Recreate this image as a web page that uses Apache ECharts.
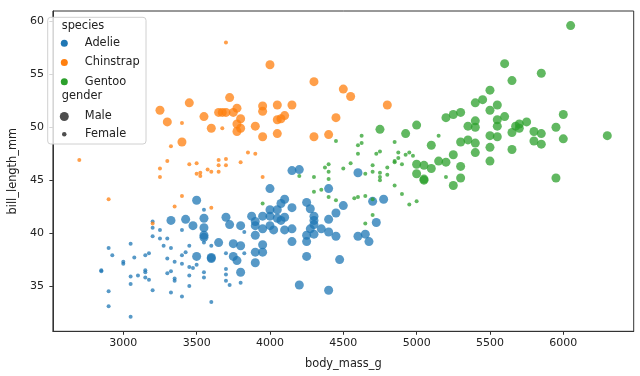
<!DOCTYPE html>
<html><head><meta charset="utf-8">
<script src="https://cdn.jsdelivr.net/npm/echarts@6/dist/echarts.min.js"></script>
<style>html,body{margin:0;padding:0;background:#fff}#c{width:640px;height:376px}</style>
</head><body><div id="c"></div>
<script>
const species = ['Adelie', 'Chinstrap', 'Gentoo'];
const genders = ['Male', 'Female'];
const xTicks = [3000, 3500, 4000, 4500, 5000, 5500, 6000];
const yTicks = [35, 40, 45, 50, 55, 60];

const adelieMale = [
[3325,41.2],[3500,37.8],[3600,37.7],[3600,37.6],[3650,39.1],[3750,39.0],[3750,37.8],[3775,37.4],[3800,38.8],[3800,36.3],[3900,38.2],[3900,37.2],[3950,38.9],[3950,38.2],[4150,39.2],[4250,39.2],[4250,37.8],[4200,35.1],[4400,34.6],
[4475,37.5],[4675,39.2],
[4600,45.7],[4400,44.2],[4700,43.0],[4775,43.2],[4500,42.6],[4450,41.9],[4400,41.3],[4725,41.0],[4450,39.7],[4600,39.7],[4650,39.9],
[4150,45.9],[4200,46.0],[4000,44.2],[3500,43.1],[4100,43.2],[4075,42.8],[4250,42.9],[4150,42.4],[4000,42.2],[4050,42.2],[4275,42.3],[4300,41.6],[4300,41.2],[4100,41.5],[4050,41.4],[4000,41.6],[3950,41.6],[3875,41.6],[3700,41.5],[3425,41.3],[3550,41.4],[3475,40.7],[3550,40.5],[3725,40.8],[3800,40.7],[3900,41.1],[3900,40.7],[3950,40.4],[4000,40.7],[4025,40.3],[4075,41.2],[4100,40.3],[4150,40.4],[4275,40.4],[4300,39.9],[4350,40.4],[3550,39.8],[3550,39.6],[3900,39.8],[4250,39.8],[4300,40.8],[4400,40.1]
];
const adelieFemale = [
[3200,41.1],[3200,40.5],[3250,40.3],[3200,39.7],[3250,39.5],[3300,39.5],[2900,38.6],[3050,39.0],[3275,38.8],[3325,38.6],
[2925,37.9],[3000,37.3],[3000,37.1],[3075,37.7],[3150,37.9],[3175,38.1],[3300,37.6],[3350,37.3],[2850,36.5],[2850,36.4],[3050,35.9],[3100,36.0],[3150,36.5],[3150,36.3],[3150,35.8],[3175,35.6],[3300,36.2],[3325,36.4],[3350,35.7],[3350,35.5],[3050,35.2],[2900,34.5],[3200,34.6],[3325,34.4],[2900,33.1],[3050,32.1],
[3450,38.8],[3400,37.9],[3425,38.2],[3400,37.1],[3450,36.8],[3475,36.7],[3450,36.0],[3450,35.0],[3400,34.0],[3550,39.1],[3550,36.3],[3550,35.8],[3500,37.0],[3600,38.8],[3600,33.5],[3700,38.1],[3700,36.6],[3700,36.1],[3700,35.5],[3725,35.1],[3800,35.3],[3825,38.1],
[3400,40.3],[3550,42.2],[3825,40.1]
];
const chinstrapMale = [
[3250,51.6],[3300,50.5],[4000,55.9],[4300,54.3],[3450,52.3],[3725,52.8],[3550,51.0],[3650,51.4],[3675,51.4],[3700,51.4],[3750,51.4],[3775,51.8],[3800,50.8],[3950,52.0],[3950,51.5],[4050,52.1],[4150,52.1],[4050,50.7],[4075,50.8],[4100,51.1],[4450,50.9],[3600,49.9],[3900,50.1],[4500,53.6],[4550,52.9],[4800,52.1],[3400,48.6],[3775,50.3],[3775,49.6],[3800,49.9],[3950,49.1],[4050,49.4],[4300,49.1],[4400,49.3]
];
const chinstrapFemale = [
[3700,58.0],[3400,50.4],[3675,49.9],[3325,48.2],[2700,46.9],[3300,46.8],[3250,46.1],[3250,45.3],[2900,43.2],[3350,42.5],[3200,40.9],
[3850,47.6],[3900,47.5],[3650,46.9],[3700,47.0],[3450,46.5],[3500,46.6],[3575,46.0],[3600,45.8],[3650,46.4],[3650,45.8],[3700,46.4],[3800,46.7],[3500,45.6],[3525,45.7],[3525,45.4],[3950,45.3],[3400,43.5],[3600,42.4]
];
const gentooMale = [
[4750,49.8],[4925,49.4],[5000,50.2],[5100,48.3],[5000,46.5],[5050,46.4],[5100,46.1],[5000,45.6],[5050,45.0],[5050,45.1],[5150,46.8],[5200,46.7],[5250,47.4],[5300,46.3],[5300,45.2],[5250,44.5],[5300,48.6],[5350,48.8],[5400,48.5],[5400,47.6],[5350,50.1],[5400,50.0],[5500,49.2],[5500,48.1],[5500,46.8],
[5500,53.5],[5450,52.6],[5400,52.3],[5500,51.6],[5200,50.9],[5250,51.2],[5300,51.4],[5400,50.6],
[6050,59.6],[5600,56.0],[5850,55.1],[5650,54.4],[5550,52.1],[6000,51.2],[5550,50.7],[5600,51.0],[5550,50.1],[5700,50.3],[5750,50.5],[5675,50.1],[5950,50.0],
[5550,49.1],[5650,49.5],[5650,47.9],[5800,49.6],[5850,49.4],[5800,48.7],[5850,48.4],[6000,48.9],[6300,49.2],[5950,45.2],[5700,49.9]
];
const gentooFemale = [
[4400,46.5],[4400,45.8],[4400,45.1],[4450,48.7],[4500,46.1],[4550,46.6],[4600,47.5],[4600,48.3],[4625,48.5],[4625,49.2],[4650,45.6],[4700,46.4],[4700,45.8],[4725,47.5],[4750,47.7],[4750,45.7],[4750,45.3],[4750,45.0],[4800,46.2],[4800,45.5],[4850,48.6],[4850,44.5],[4850,46.8],[4850,46.7],[4875,47.1],[4875,47.6],[4900,46.5],[4925,47.4],[4950,47.6],[4975,47.3],[4900,43.7],[4950,42.7],[5000,43.0],[5150,49.2],[5200,45.3],[4650,43.5],[4600,43.4],[4575,43.3],[4650,40.9],[4700,41.7],[4700,43.2],
[4375,46.2],[4300,45.3],[4350,44.1],[4300,43.9],[4400,43.4],[4450,43.1],[3950,42.8],[4200,45.4]
];

const colors = {Adelie: '#1f77b4', Chinstrap: '#ff7f0e', Gentoo: '#2ca02c'};
const dataBy = {
  Adelie: {Male: adelieMale, Female: adelieFemale},
  Chinstrap: {Male: chinstrapMale, Female: chinstrapFemale},
  Gentoo: {Male: gentooMale, Female: gentooFemale}
};
const sizes = {Male: 9, Female: 4};
const FONT = 'DejaVu Sans';
const TXT = '#222';

const series = [];
species.forEach(sp => {
  genders.forEach(g => {
    series.push({
      type: 'scatter', name: sp, data: dataBy[sp][g],
      symbol: 'circle', symbolSize: sizes[g],
      itemStyle: {color: colors[sp], opacity: 0.75},
      z: 2
    });
  });
});
genders.forEach(g => {
  series.push({type: 'scatter', name: g, data: [], symbolSize: sizes[g], itemStyle: {color: '#222'}});
});

function legendText(padLeft) {
  return {fontFamily: FONT, fontSize: 11.4, color: TXT, padding: [0, 0, 0, padLeft]};
}
const chart = echarts.init(document.getElementById('c'));
chart.setOption({
  animation: false,
  backgroundColor: '#fff',
  grid: {left: 41.7, right: 6.3, top: 11, bottom: 44.7, show: true, borderColor: '#333', borderWidth: 1, backgroundColor: 'transparent'},
  xAxis: {
    type: 'value', min: 2520, max: 6480,
    name: 'body_mass_g', nameLocation: 'middle', nameGap: 27,
    nameTextStyle: {fontFamily: FONT, fontSize: 11.4, color: TXT},
    axisLine: {show: true, lineStyle: {color: '#333', width: 1}},
    axisTick: {show: true, customValues: xTicks, length: 3.5, lineStyle: {color: '#333'}},
    axisLabel: {customValues: xTicks, formatter: v => String(v), fontFamily: FONT, fontSize: 11, color: TXT, margin: 6},
    splitLine: {show: false}
  },
  yAxis: {
    type: 'value', min: 30.725, max: 60.975,
    name: 'bill_length_mm', nameLocation: 'middle', nameGap: 32, nameRotate: 90,
    nameTextStyle: {fontFamily: FONT, fontSize: 11.4, color: TXT},
    axisLine: {show: true, lineStyle: {color: '#333', width: 1}},
    axisTick: {show: true, customValues: yTicks, length: 3.5, lineStyle: {color: '#333'}},
    axisLabel: {customValues: yTicks, formatter: v => String(v), fontFamily: FONT, fontSize: 11, color: TXT, margin: 9},
    splitLine: {show: false}
  },
  legend: [
    {data: species.map(s => ({name: s, itemStyle: {opacity: 1, color: colors[s]}})), orient: 'vertical', left: 60.8, top: 37.8, padding: 0,
     itemWidth: 7, itemHeight: 7, itemGap: 8.2, icon: 'circle', selectedMode: false, textStyle: legendText(12), z: 20},
    {data: ['Male'], left: 59.8, top: 111, padding: 0, itemWidth: 9, itemHeight: 9, icon: 'circle', selectedMode: false,
     textStyle: legendText(11), z: 20},
    {data: ['Female'], left: 62, top: 128.8, padding: 0, itemWidth: 4.5, itemHeight: 4.5, icon: 'circle', selectedMode: false,
     textStyle: legendText(13.5), z: 20}
  ],
  graphic: [
    {type: 'rect', shape: {x: 47.7, y: 17.3, width: 98.3, height: 126.7, r: 3}, style: {fill: 'rgba(255,255,255,0.8)', stroke: '#d0d0d0', lineWidth: 1}, z: 10},
    {type: 'text', left: 61.7, top: 20.5, style: {text: 'species', font: '11.4px "DejaVu Sans"', fill: TXT}, z: 21},
    {type: 'text', left: 61.7, top: 91, style: {text: 'gender', font: '11.4px "DejaVu Sans"', fill: TXT}, z: 21}
  ],
  series: series
});
</script></body></html>
